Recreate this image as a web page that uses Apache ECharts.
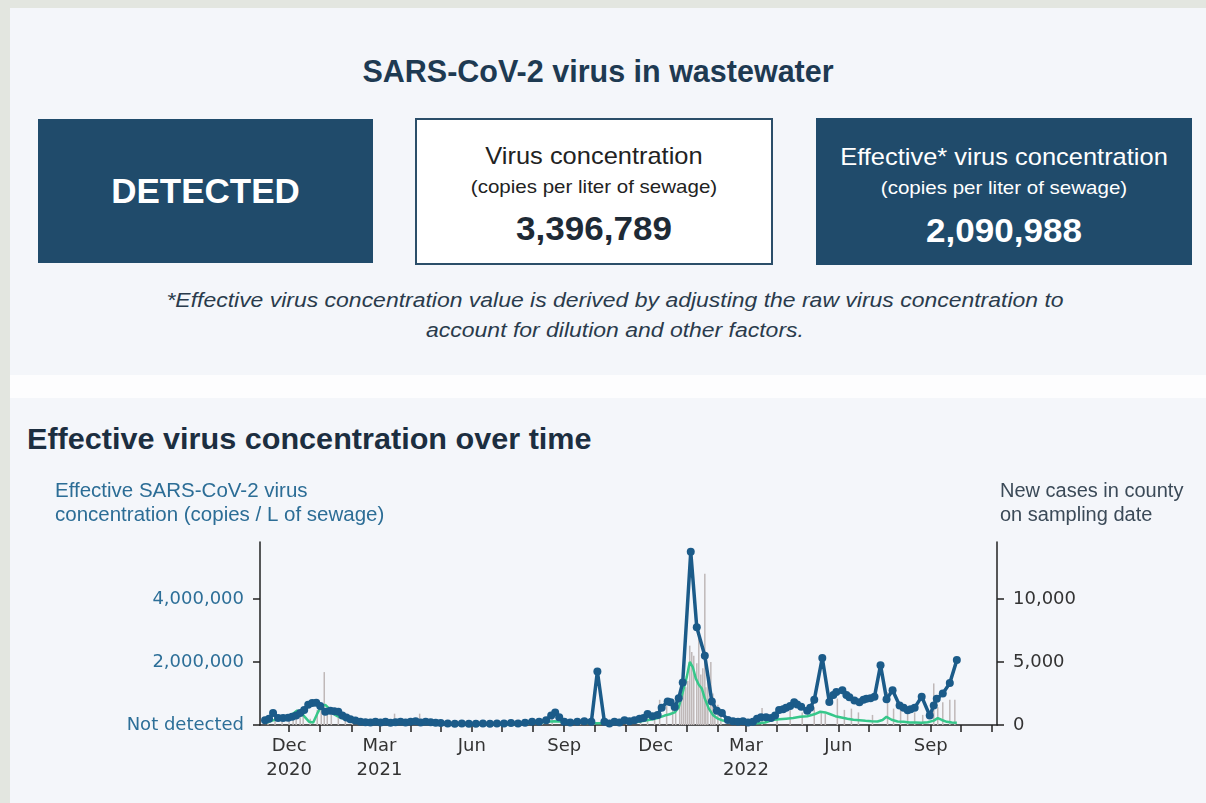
<!DOCTYPE html>
<html>
<head>
<meta charset="utf-8">
<title>SARS-CoV-2 virus in wastewater</title>
<script src="https://cdn.jsdelivr.net/npm/echarts@6.0.0/dist/echarts.min.js"></script>
<style>
  html, body {
    margin: 0;
    padding: 0;
    width: 1206px;
    height: 803px;
    overflow: hidden;
    background: #e3e6e0;
    font-family: "Liberation Sans", Arial, sans-serif;
  }
  .panel {
    position: absolute;
    left: 10px;
    width: 1196px;
    background: #f4f6fa;
  }
  .gap {
    position: absolute;
    left: 10px;
    top: 375px;
    width: 1196px;
    height: 23px;
    background: #fdfdfe;
  }
  .line {
    position: absolute;
    text-align: center;
    white-space: nowrap;
    transform-origin: center;
  }
  .box {
    position: absolute;
    box-sizing: border-box;
  }
  .dark {
    background: #204b6b;
    color: #fff;
  }
  .light {
    background: #fff;
    border: 2px solid #2b4e69;
    color: #222;
  }
  #people-chart {
    position: absolute;
    left: 0;
    top: 0;
    width: 1206px;
    height: 803px;
  }
</style>
</head>
<body>
<div class="panel" style="top:8px;height:367px;"></div>
<div class="gap"></div>
<div class="panel" style="top:398px;height:405px;"></div>

<!-- header block -->
<div class="line" style="left:0;width:1196px;top:52px;line-height:38px;font-size:30.5px;font-weight:bold;color:#1e3a52;">SARS-CoV-2 virus in wastewater</div>

<div class="box dark" style="left:38px;top:119px;width:335px;height:144px;">
  <div class="line" style="left:0;width:335px;top:52px;line-height:40px;font-size:35px;font-weight:bold;">DETECTED</div>
</div>

<div class="box light" style="left:415px;top:118px;width:358px;height:147px;">
  <div class="line" style="left:0;width:354px;top:21px;line-height:30px;font-size:24px;transform:scaleX(1.06);">Virus concentration</div>
  <div class="line" style="left:0;width:354px;top:55px;line-height:24px;font-size:19px;transform:scaleX(1.08);">(copies per liter of sewage)</div>
  <div class="line" style="left:0;width:354px;top:88px;line-height:40px;font-size:34px;font-weight:bold;color:#1e2a36;transform:scaleX(1.03);">3,396,789</div>
</div>

<div class="box dark" style="left:816px;top:118px;width:376px;height:147px;">
  <div class="line" style="left:0;width:376px;top:24px;line-height:30px;font-size:24px;transform:scaleX(1.06);">Effective* virus concentration</div>
  <div class="line" style="left:0;width:376px;top:58px;line-height:24px;font-size:19px;transform:scaleX(1.08);">(copies per liter of sewage)</div>
  <div class="line" style="left:0;width:376px;top:92px;line-height:40px;font-size:34px;font-weight:bold;transform:scaleX(1.03);">2,090,988</div>
</div>

<div class="line" style="left:0;width:1230px;top:285px;line-height:30px;font-size:20.5px;font-style:italic;color:#2a3b4c;transform:scaleX(1.12);">*Effective virus concentration value is derived by adjusting the raw virus concentration to<br>account for dilution and other factors.</div>

<!-- chart block -->
<div class="line" style="left:27px;top:420px;line-height:38px;font-size:30px;font-weight:bold;color:#1c2e40;text-align:left;transform-origin:left center;transform:scaleX(1.02);">Effective virus concentration over time</div>

<div id="people-chart"></div>

<script>
// effective virus concentration (copies / L), one sample ~ every few days
const effectiveConc = [
  ['2020-11-07', 150000], ['2020-11-11', 200000], ['2020-11-15', 380000], ['2020-11-20', 220000],
  ['2020-11-25', 220000], ['2020-11-30', 230000], ['2020-12-04', 260000], ['2020-12-08', 300000],
  ['2020-12-12', 380000], ['2020-12-16', 480000], ['2020-12-20', 640000], ['2020-12-24', 700000],
  ['2020-12-28', 710000], ['2021-01-01', 600000], ['2021-01-06', 420000], ['2021-01-11', 450000],
  ['2021-01-15', 440000], ['2021-01-19', 420000], ['2021-01-23', 300000], ['2021-01-27', 240000],
  ['2021-01-31', 180000], ['2021-02-05', 140000], ['2021-02-10', 100000], ['2021-02-15', 90000],
  ['2021-02-20', 80000], ['2021-02-25', 100000], ['2021-03-02', 80000], ['2021-03-07', 100000],
  ['2021-03-12', 70000], ['2021-03-17', 90000], ['2021-03-22', 100000], ['2021-03-27', 80000],
  ['2021-04-01', 100000], ['2021-04-06', 120000], ['2021-04-11', 80000], ['2021-04-16', 100000],
  ['2021-04-21', 90000], ['2021-04-26', 70000], ['2021-05-01', 60000], ['2021-05-08', 50000],
  ['2021-05-15', 40000], ['2021-05-22', 50000], ['2021-05-29', 40000], ['2021-06-05', 40000],
  ['2021-06-12', 50000], ['2021-06-19', 40000], ['2021-06-26', 50000], ['2021-07-03', 50000],
  ['2021-07-10', 60000], ['2021-07-17', 50000], ['2021-07-24', 70000], ['2021-07-31', 100000],
  ['2021-08-07', 100000], ['2021-08-14', 150000], ['2021-08-19', 300000], ['2021-08-23', 400000],
  ['2021-08-27', 250000], ['2021-09-01', 100000], ['2021-09-07', 80000], ['2021-09-14', 100000],
  ['2021-09-21', 120000], ['2021-09-28', 100000], ['2021-10-04', 1700000], ['2021-10-11', 100000],
  ['2021-10-16', 50000], ['2021-10-21', 100000], ['2021-10-26', 80000], ['2021-10-31', 150000],
  ['2021-11-05', 120000], ['2021-11-10', 150000], ['2021-11-15', 200000], ['2021-11-19', 220000],
  ['2021-11-23', 350000], ['2021-11-28', 280000], ['2021-12-03', 320000], ['2021-12-07', 550000],
  ['2021-12-13', 750000], ['2021-12-16', 720000], ['2021-12-20', 570000], ['2021-12-24', 850000],
  ['2021-12-28', 1350000], ['2022-01-05', 5500000], ['2022-01-11', 3100000], ['2022-01-19', 2200000],
  ['2022-01-26', 750000], ['2022-01-31', 450000], ['2022-02-05', 380000], ['2022-02-11', 160000],
  ['2022-02-16', 120000], ['2022-02-21', 100000], ['2022-02-26', 120000], ['2022-03-03', 80000],
  ['2022-03-08', 100000], ['2022-03-12', 200000], ['2022-03-16', 250000], ['2022-03-21', 250000],
  ['2022-03-26', 220000], ['2022-03-30', 300000], ['2022-04-03', 480000], ['2022-04-07', 500000],
  ['2022-04-10', 550000], ['2022-04-14', 600000], ['2022-04-18', 720000], ['2022-04-21', 650000],
  ['2022-04-25', 580000], ['2022-05-01', 450000], ['2022-05-04', 550000], ['2022-05-08', 800000],
  ['2022-05-16', 2130000], ['2022-05-23', 730000], ['2022-05-27', 950000], ['2022-05-30', 1050000],
  ['2022-06-05', 1100000], ['2022-06-09', 950000], ['2022-06-12', 880000], ['2022-06-17', 780000],
  ['2022-06-22', 720000], ['2022-06-26', 800000], ['2022-06-29', 830000], ['2022-07-03', 850000],
  ['2022-07-07', 900000], ['2022-07-13', 1900000], ['2022-07-19', 820000], ['2022-07-25', 1100000],
  ['2022-08-01', 620000], ['2022-08-05', 550000], ['2022-08-09', 470000], ['2022-08-12', 500000],
  ['2022-08-16', 550000], ['2022-08-23', 900000], ['2022-08-31', 300000], ['2022-09-04', 620000],
  ['2022-09-07', 830000], ['2022-09-13', 1000000], ['2022-09-20', 1330000], ['2022-09-27', 2060000]
]

// new cases in county, smoothed (green line)
const casesAvg = [
  ['2020-11-07', 150], ['2020-11-14', 350], ['2020-11-21', 500], ['2020-11-28', 650],
  ['2020-12-05', 900], ['2020-12-09', 1150], ['2020-12-13', 1000], ['2020-12-17', 600],
  ['2020-12-21', 250], ['2020-12-25', 200], ['2020-12-29', 900], ['2021-01-02', 1500],
  ['2021-01-06', 1600], ['2021-01-10', 1300], ['2021-01-14', 900], ['2021-01-18', 700],
  ['2021-01-24', 500], ['2021-01-31', 350], ['2021-02-07', 250], ['2021-02-14', 200],
  ['2021-02-21', 200], ['2021-02-28', 180], ['2021-03-07', 200], ['2021-03-14', 200],
  ['2021-03-21', 180], ['2021-03-28', 220], ['2021-04-04', 250], ['2021-04-11', 250],
  ['2021-04-18', 220], ['2021-04-25', 200], ['2021-05-02', 150], ['2021-05-09', 120],
  ['2021-05-16', 80], ['2021-05-23', 60], ['2021-05-30', 50], ['2021-06-06', 40],
  ['2021-06-13', 30], ['2021-06-20', 30], ['2021-06-27', 30], ['2021-07-04', 40],
  ['2021-07-11', 50], ['2021-07-18', 80], ['2021-07-25', 120], ['2021-08-01', 160],
  ['2021-08-08', 200], ['2021-08-15', 260], ['2021-08-22', 300], ['2021-08-29', 280],
  ['2021-09-05', 250], ['2021-09-12', 220], ['2021-09-19', 180], ['2021-09-26', 150],
  ['2021-10-03', 140], ['2021-10-10', 130], ['2021-10-17', 130], ['2021-10-24', 150],
  ['2021-10-31', 180], ['2021-11-07', 220], ['2021-11-14', 260], ['2021-11-21', 350],
  ['2021-11-28', 450], ['2021-12-05', 600], ['2021-12-10', 750], ['2021-12-15', 850],
  ['2021-12-20', 1000], ['2021-12-24', 1400], ['2021-12-28', 2600], ['2022-01-01', 3800],
  ['2022-01-04', 5000], ['2022-01-07', 4600], ['2022-01-10', 3700], ['2022-01-13', 3200],
  ['2022-01-16', 2900], ['2022-01-19', 2100], ['2022-01-23', 1300], ['2022-01-27', 800],
  ['2022-02-01', 500], ['2022-02-06', 350], ['2022-02-13', 250], ['2022-02-20', 180],
  ['2022-02-27', 140], ['2022-03-06', 120], ['2022-03-13', 130], ['2022-03-20', 200],
  ['2022-03-27', 400], ['2022-04-03', 450], ['2022-04-10', 500], ['2022-04-17', 550],
  ['2022-04-24', 650], ['2022-05-01', 700], ['2022-05-08', 850], ['2022-05-14', 1050],
  ['2022-05-19', 1000], ['2022-05-24', 850], ['2022-05-29', 700], ['2022-06-04', 600],
  ['2022-06-10', 500], ['2022-06-16', 420], ['2022-06-22', 380], ['2022-06-28', 330],
  ['2022-07-04', 300], ['2022-07-10', 280], ['2022-07-15', 400], ['2022-07-19', 650],
  ['2022-07-24', 420], ['2022-07-30', 280], ['2022-08-05', 250], ['2022-08-11', 200],
  ['2022-08-17', 200], ['2022-08-23', 180], ['2022-08-29', 220], ['2022-09-04', 350],
  ['2022-09-08', 550], ['2022-09-12', 400], ['2022-09-17', 250], ['2022-09-22', 200],
  ['2022-09-27', 180]
]

// daily new cases on sampling dates (grey bars)
const casesDaily = [
  ['2020-11-10', 300], ['2020-11-17', 600], ['2020-11-24', 700], ['2020-12-01', 800],
  ['2020-12-05', 1000], ['2020-12-08', 1100], ['2020-12-12', 1200], ['2020-12-15', 900],
  ['2020-12-22', 500], ['2020-12-29', 1200], ['2021-01-02', 1400], ['2021-01-05', 4200],
  ['2021-01-08', 1500], ['2021-01-12', 1300], ['2021-01-19', 900], ['2021-01-26', 600],
  ['2021-02-02', 400], ['2021-02-09', 300], ['2021-02-16', 250], ['2021-02-23', 300],
  ['2021-03-02', 350], ['2021-03-16', 900], ['2021-03-23', 400], ['2021-04-10', 900],
  ['2021-04-20', 400], ['2021-05-04', 250], ['2021-05-18', 150], ['2021-06-08', 80],
  ['2021-07-06', 100], ['2021-07-27', 200], ['2021-08-10', 400], ['2021-08-20', 600],
  ['2021-09-03', 500], ['2021-09-17', 400], ['2021-10-01', 350], ['2021-10-19', 400],
  ['2021-11-02', 500], ['2021-11-16', 600], ['2021-11-23', 900], ['2021-11-30', 1000],
  ['2021-12-05', 2000], ['2021-12-12', 1500], ['2021-12-18', 1800], ['2021-12-21', 1200],
  ['2021-12-25', 2200], ['2021-12-27', 2500], ['2021-12-29', 2800], ['2021-12-31', 3000],
  ['2022-01-02', 3500], ['2022-01-04', 6300], ['2022-01-06', 5800], ['2022-01-08', 5500],
  ['2022-01-11', 4900], ['2022-01-13', 7500], ['2022-01-15', 4000], ['2022-01-17', 4500],
  ['2022-01-19', 12000], ['2022-01-20', 3000], ['2022-01-22', 3500], ['2022-01-25', 5000],
  ['2022-01-27', 2500], ['2022-01-29', 1800], ['2022-02-01', 1600], ['2022-02-04', 900],
  ['2022-02-15', 400], ['2022-03-01', 300], ['2022-03-17', 1350], ['2022-04-01', 900],
  ['2022-04-14', 1200], ['2022-04-26', 1000], ['2022-05-08', 1400], ['2022-05-15', 1100],
  ['2022-05-19', 900], ['2022-05-31', 2100], ['2022-06-07', 1200], ['2022-06-14', 1300],
  ['2022-06-21', 1000], ['2022-07-05', 800], ['2022-07-20', 2600], ['2022-07-26', 1300],
  ['2022-08-02', 1800], ['2022-08-09', 900], ['2022-08-16', 1000], ['2022-08-24', 800],
  ['2022-09-04', 3300], ['2022-09-08', 1400], ['2022-09-13', 1800], ['2022-09-20', 2000],
  ['2022-09-25', 2000]
]

// month ticks and the labelled ones
const monthTicks = [
  '2020-12-01', '2021-01-01', '2021-02-01', '2021-03-01', '2021-04-01', '2021-05-01',
  '2021-06-01', '2021-07-01', '2021-08-01', '2021-09-01', '2021-10-01', '2021-11-01',
  '2021-12-01', '2022-01-01', '2022-02-01', '2022-03-01', '2022-04-01', '2022-05-01',
  '2022-06-01', '2022-07-01', '2022-08-01', '2022-09-01', '2022-10-01', '2022-11-01'
]
const xTickLabels = [
  ['2020-12-01', 'Dec\n2020'], ['2021-03-01', 'Mar\n2021'], ['2021-06-01', 'Jun'],
  ['2021-09-01', 'Sep'], ['2021-12-01', 'Dec'], ['2022-03-01', 'Mar\n2022'],
  ['2022-06-01', 'Jun'], ['2022-09-01', 'Sep']
]
const leftTicks = [0, 2000000, 4000000]
const rightTicks = [0, 5000, 10000]

// dates -> ms so the x axis can be a plain value axis
function toTime (s) {
  return new Date(s + 'T00:00:00').getTime()
}
function dateKey (value) {
  const d = new Date(value)
  const m = String(d.getMonth() + 1).padStart(2, '0')
  const day = String(d.getDate()).padStart(2, '0')
  return d.getFullYear() + '-' + m + '-' + day
}
const toPoints = arr => arr.map(item => [toTime(item[0]), item[1]])

const labelByDate = {}
xTickLabels.forEach(item => { labelByDate[item[0]] = item[1] })

const myChart = echarts.init(document.getElementById('people-chart'), null, { renderer: 'canvas' })

const axisColor = '#222'
const option = {
  animation: false,
  grid: {
    left: 260,
    right: 209,
    top: 542,
    bottom: 78,
    containLabel: false,
    outerBoundsMode: 'none'
  },
  graphic: [
    {
      type: 'text',
      left: 55,
      top: 479,
      style: {
        text: 'Effective SARS-CoV-2 virus\nconcentration (copies / L of sewage)',
        font: '20.5px "Liberation Sans", Arial, sans-serif',
        fill: '#2c6d96',
        lineHeight: 24
      }
    },
    {
      type: 'text',
      left: 1000,
      top: 479,
      style: {
        text: 'New cases in county\non sampling date',
        font: '20px "Liberation Sans", Arial, sans-serif',
        fill: '#3b4a58',
        lineHeight: 24
      }
    }
  ],
  xAxis: {
    type: 'value',
    min: toTime('2020-11-02'),
    max: toTime('2022-11-06'),
    axisLine: { lineStyle: { color: axisColor, width: 1.5 } },
    axisTick: {
      show: true,
      length: 7,
      customValues: monthTicks.map(toTime),
      lineStyle: { color: axisColor, width: 1.5 }
    },
    axisLabel: {
      customValues: xTickLabels.map(item => toTime(item[0])),
      formatter: value => labelByDate[dateKey(value)] || '',
      fontFamily: 'DejaVu Sans',
      fontSize: 18,
      lineHeight: 24,
      color: '#333',
      margin: 9
    },
    splitLine: { show: false }
  },
  yAxis: [
    {
      type: 'value',
      min: 0,
      max: 5810000,
      position: 'left',
      axisLine: { show: true, lineStyle: { color: axisColor, width: 1.5 } },
      axisTick: {
        show: true,
        length: 7,
        customValues: leftTicks,
        lineStyle: { color: axisColor, width: 1.5 }
      },
      axisLabel: {
        customValues: leftTicks,
        formatter: value => value === 0 ? 'Not detected' : value.toLocaleString('en-US'),
        fontFamily: 'DejaVu Sans',
        fontSize: 18,
        color: '#2d6f98',
        margin: 16
      },
      splitLine: { show: false }
    },
    {
      type: 'value',
      min: 0,
      max: 14525,
      position: 'right',
      axisLine: { show: true, lineStyle: { color: axisColor, width: 1.5 } },
      axisTick: {
        show: true,
        length: 7,
        customValues: rightTicks,
        lineStyle: { color: axisColor, width: 1.5 }
      },
      axisLabel: {
        customValues: rightTicks,
        formatter: value => value.toLocaleString('en-US'),
        fontFamily: 'DejaVu Sans',
        fontSize: 18,
        color: '#333',
        margin: 16
      },
      splitLine: { show: false }
    }
  ],
  series: [
    {
      name: 'New cases',
      type: 'bar',
      yAxisIndex: 1,
      barWidth: 1.5,
      itemStyle: { color: '#bfb8b8' },
      data: toPoints(casesDaily)
    },
    {
      name: 'New cases (average)',
      type: 'line',
      yAxisIndex: 1,
      showSymbol: false,
      lineStyle: { color: '#36c78a', width: 2.5 },
      itemStyle: { color: '#36c78a' },
      data: toPoints(casesAvg)
    },
    {
      name: 'Effective virus concentration',
      type: 'line',
      yAxisIndex: 0,
      symbol: 'circle',
      symbolSize: 8,
      lineStyle: { color: '#1b5b89', width: 3.5 },
      itemStyle: { color: '#1b5b89' },
      data: toPoints(effectiveConc)
    }
  ]
}
myChart.setOption(option)
</script>
</body>
</html>
